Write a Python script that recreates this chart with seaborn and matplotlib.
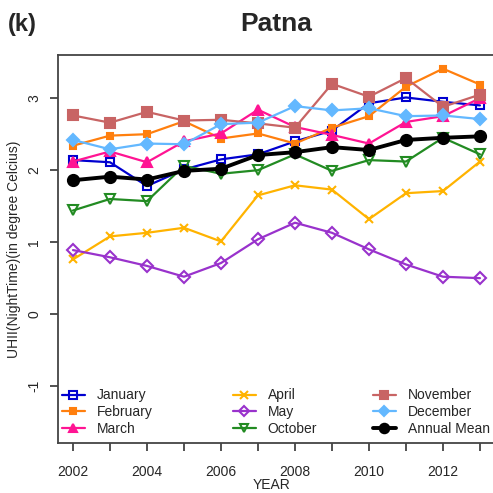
import matplotlib
matplotlib.use("Agg")
import matplotlib.pyplot as plt
import seaborn as sns
import numpy as np
import pandas as pd
from matplotlib.lines import Line2D
from matplotlib.legend import Legend

years = [2002, 2003, 2004, 2005, 2006, 2007, 2008, 2009, 2010, 2011, 2012, 2013]

january = [2.14, 2.11, 1.78, 2.01, 2.15, 2.22, 2.40, 2.55, 2.93, 3.01, 2.95, 2.90]
february = [2.34, 2.48, 2.50, 2.68, 2.44, 2.51, 2.37, 2.59, 2.75, 3.16, 3.41, 3.19]
march = [2.12, 2.26, 2.11, 2.40, 2.51, 2.84, 2.60, 2.49, 2.37, 2.67, 2.75, 3.00]
april = [0.76, 1.08, 1.13, 1.20, 1.01, 1.65, 1.79, 1.73, 1.32, 1.68, 1.71, 2.12]
may = [0.89, 0.79, 0.67, 0.52, 0.71, 1.04, 1.27, 1.13, 0.90, 0.69, 0.52, 0.50]
october = [1.44, 1.60, 1.57, 2.06, 1.95, 2.00, 2.22, 1.99, 2.14, 2.12, 2.45, 2.22]
november = [2.76, 2.66, 2.81, 2.69, 2.70, 2.65, 2.59, 3.20, 3.02, 3.28, 2.88, 3.05]
december = [2.42, 2.29, 2.37, 2.36, 2.64, 2.66, 2.89, 2.83, 2.86, 2.75, 2.76, 2.71]
annual_mean = [1.86, 1.91, 1.87, 1.99, 2.02, 2.21, 2.25, 2.32, 2.28, 2.42, 2.45, 2.47]

series_names = ["January", "February", "March", "April", "May", "October",
                "November", "December", "Annual Mean"]
series_values = [january, february, march, april, may, october,
                 november, december, annual_mean]

x_tick_labels = ["2002", "", "2004", "", "2006", "", "2008", "", "2010", "", "2012", ""]
y_ticks = [-1, 0, 1, 2, 3]

# style per series: colour, marker, filled, line width, marker size
styles = {
    "January":     ("#0000D0", "s", False, 1.6, 6),
    "February":    ("#FF7F0E", "s", True, 1.6, 4.5),
    "March":       ("#FF1493", "^", True, 1.6, 6.5),
    "April":       ("#FFB300", "x", False, 1.6, 6),
    "May":         ("#9932CC", "D", False, 1.6, 6),
    "October":     ("#228B22", "v", False, 1.6, 6.5),
    "November":    ("#C86464", "s", True, 1.6, 6.5),
    "December":    ("#63B8FF", "D", True, 1.6, 6.5),
    "Annual Mean": ("#000000", "o", True, 2.8, 8),
}

sns.set_style("white")
plt.rcParams["font.family"] = ["Liberation Sans", "DejaVu Sans"]

fig = plt.figure(figsize=(4.93, 4.93), dpi=100)
ax = fig.add_axes([58 / 493, 50 / 493, 439 / 493, 388 / 493])

handles = {}
for name, vals in zip(series_names, series_values):
    col, mk, filled, lw, ms = styles[name]
    df = pd.DataFrame({"year": years, "value": vals})
    sns.lineplot(data=df, x="year", y="value", ax=ax, color=col, linewidth=lw,
                 marker=mk, markersize=ms, markeredgecolor=col,
                 markerfacecolor=col if filled else "none",
                 markeredgewidth=1.5, legend=False)
    handles[name] = Line2D([], [], color=col, linewidth=lw, marker=mk,
                           markersize=ms * 0.85, markeredgecolor=col,
                           markerfacecolor=col if filled else "none",
                           markeredgewidth=1.5)

ax.set_xlim(2001.595, 2013.46)
ax.set_ylim(-1.79, 3.6)
ax.set_xticks(years)
ax.set_xticklabels(x_tick_labels, fontsize=10)
ax.set_yticks(y_ticks)
ax.set_yticklabels([str(v) for v in y_ticks], fontsize=10, rotation=90, va="center")
ax.tick_params(axis="both", direction="out", length=6, width=1.2, color="#333333",
               left=True, bottom=True)
ax.tick_params(axis="x", pad=10)
ax.tick_params(axis="y", pad=6)
for side in ["left", "bottom", "top", "right"]:
    ax.spines[side].set_color("#444444")
    ax.spines[side].set_linewidth(1.3)

ax.set_xlabel("YEAR", fontsize=10)
ax.xaxis.set_label_coords((272 - 58) / 439, -35 / 388)
ax.set_ylabel("UHII(NightTime)(in degree Celcius)", fontsize=10)
ax.yaxis.set_label_coords(-0.084, 0.5)

# legend in three columns
columns = [["January", "February", "March"],
           ["April", "May", "October"],
           ["November", "December", "Annual Mean"]]
col_x = [(62 - 58) / 439, (233 - 58) / 439, (373 - 58) / 439]
for cx, names in zip(col_x, columns):
    leg = Legend(ax, [handles[n] for n in names], names, loc="lower left",
                 bbox_to_anchor=(cx, 7 / 388), frameon=False, fontsize=10,
                 handlelength=1.65, handletextpad=0.85, labelspacing=0.2,
                 borderaxespad=0.0, borderpad=0.0)
    ax.add_artist(leg)

fig.text(276 / 493, 1 - 24 / 493, "Patna", ha="center", va="center",
         fontsize=19, fontweight="bold")
fig.text(8 / 493, 1 - 24 / 493, "(k)", ha="left", va="center",
         fontsize=17, fontweight="bold")

fig.savefig("out.png", dpi=100)
